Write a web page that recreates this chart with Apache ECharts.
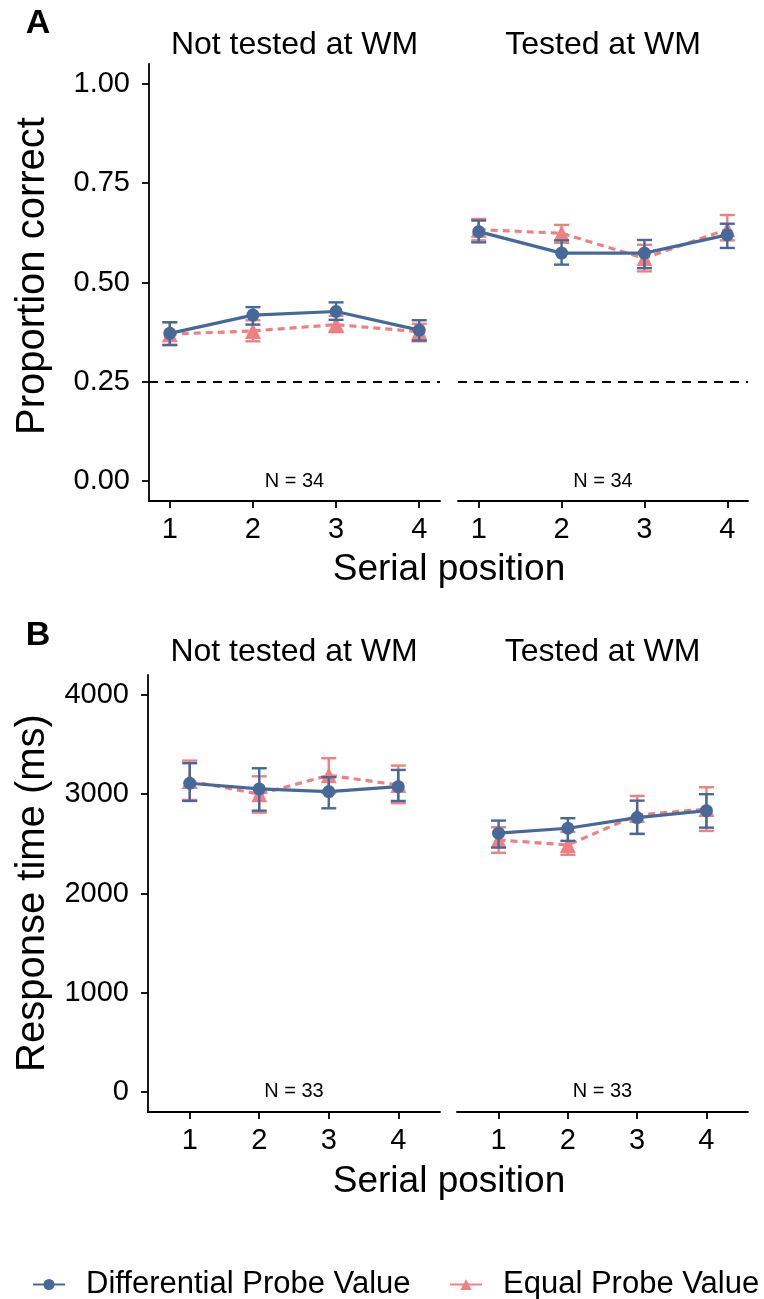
<!DOCTYPE html>
<html>
<head>
<meta charset="utf-8">
<script src="https://cdn.jsdelivr.net/npm/echarts@6/dist/echarts.min.js"></script>
<style>
html,body{margin:0;padding:0;background:#fff;}
#main{width:764px;height:1299px;}
</style>
</head>
<body>
<div id="main"></div>
<script>
// ---- data ----
const serialPositions = [1, 2, 3, 4];
const xTickLabels = ['1', '2', '3', '4'];
const facetNames = ['Not tested at WM', 'Tested at WM'];
const seriesNames = ['Differential Probe Value', 'Equal Probe Value'];
const accTicks = [0, 0.25, 0.5, 0.75, 1.0];
const rtTicks = [0, 1000, 2000, 3000, 4000];
const chanceLevel = 0.25;
const nLabelsA = ['N = 34', 'N = 34'];
const nLabelsB = ['N = 33', 'N = 33'];

// Panel A: proportion correct
const accDiffNot   = [0.372, 0.418, 0.427, 0.380];
const accDiffNotLo = [0.343, 0.394, 0.406, 0.354];
const accDiffNotHi = [0.400, 0.438, 0.450, 0.405];
const accEqNot     = [0.370, 0.378, 0.394, 0.376];
const accEqNotLo   = [0.342, 0.352, 0.375, 0.352];
const accEqNotHi   = [0.400, 0.405, 0.416, 0.396];
const accDiffTest   = [0.628, 0.574, 0.574, 0.620];
const accDiffTestLo = [0.601, 0.545, 0.536, 0.587];
const accDiffTestHi = [0.656, 0.606, 0.607, 0.648];
const accEqTest     = [0.633, 0.624, 0.561, 0.634];
const accEqTestLo   = [0.606, 0.600, 0.528, 0.606];
const accEqTestHi   = [0.660, 0.645, 0.595, 0.670];

// Panel B: response time (ms)
const rtDiffNot   = [3110, 3053, 3026, 3076];
const rtDiffNotLo = [2932, 2834, 2858, 2932];
const rtDiffNotHi = [3312, 3261, 3171, 3244];
const rtEqNot     = [3133, 3000, 3190, 3093];
const rtEqNotLo   = [2942, 2814, 3010, 2909];
const rtEqNotHi   = [3338, 3180, 3362, 3288];
const rtDiffTest   = [2607, 2657, 2764, 2834];
const rtDiffTestLo = [2462, 2530, 2600, 2663];
const rtDiffTestHi = [2734, 2758, 2935, 3000];
const rtEqTest     = [2539, 2489, 2790, 2850];
const rtEqTestLo   = [2410, 2390, 2600, 2630];
const rtEqTestHi   = [2667, 2620, 2982, 3070];

// ---- styling ----
const FONT = '"Liberation Sans", Arial, Helvetica, sans-serif';
const BLUE = '#46699A';
const RED = '#F08080';

const chart = echarts.init(document.getElementById('main'), null, {renderer: 'canvas'});

const grids = [
  {left: 149, top: 64, width: 291, height: 437},
  {left: 458, top: 64, width: 290, height: 437},
  {left: 148, top: 675, width: 292, height: 437},
  {left: 457, top: 675, width: 291, height: 437}
];

function xAxisFor(gi, min, max) {
  return {
    type: 'value', gridIndex: gi, min: min, max: max,
    axisLine: {show: true, onZero: false, lineStyle: {color: '#000', width: 1.8}},
    axisTick: {show: true, length: 7, lineStyle: {color: '#000', width: 1.8}, customValues: serialPositions},
    axisLabel: {color: '#000', fontSize: 29, fontFamily: FONT, margin: 14,
      customValues: serialPositions,
      formatter: v => xTickLabels[serialPositions.indexOf(v)]},
    splitLine: {show: false}
  };
}
function yAxisFor(gi, min, max, ticks, fmt, show) {
  return {
    type: 'value', gridIndex: gi, min: min, max: max,
    axisLine: {show: show, onZero: false, lineStyle: {color: '#000', width: 1.8}},
    axisTick: {show: show, length: 7, lineStyle: {color: '#000', width: 1.8}, customValues: ticks},
    axisLabel: {show: show, color: '#000', fontSize: 29, fontFamily: FONT, margin: 19,
      customValues: ticks, formatter: fmt},
    splitLine: {show: false}
  };
}

function errSeries(name, gi, xs, lo, hi, color, z) {
  return {
    type: 'custom', name: name, xAxisIndex: gi, yAxisIndex: gi, z: z,
    silent: true,
    data: xs.map((x, i) => [x, lo[i], hi[i]]),
    renderItem: function (params, api) {
      const p1 = api.coord([api.value(0), api.value(1)]);
      const p2 = api.coord([api.value(0), api.value(2)]);
      const hw = 7.5;
      const st = {stroke: color, lineWidth: 2.4};
      return {type: 'group', children: [
        {type: 'line', shape: {x1: p1[0], y1: p1[1], x2: p2[0], y2: p2[1]}, style: st},
        {type: 'line', shape: {x1: p1[0] - hw, y1: p1[1], x2: p1[0] + hw, y2: p1[1]}, style: st},
        {type: 'line', shape: {x1: p2[0] - hw, y1: p2[1], x2: p2[0] + hw, y2: p2[1]}, style: st}
      ]};
    }
  };
}
function lineSeries(name, gi, xs, ys, color, dashed, symbol, z) {
  return {
    type: 'line', name: name, xAxisIndex: gi, yAxisIndex: gi, z: z,
    data: xs.map((x, i) => [x, ys[i]]),
    symbol: symbol, symbolSize: symbol === 'triangle' ? 16 : 13,
    showSymbol: true,
    itemStyle: {color: color},
    lineStyle: {color: color, width: 3.2, type: dashed ? [7, 5] : 'solid'},
    emphasis: {disabled: true},
    animation: false
  };
}

const fmtAcc = v => v.toFixed(2);
const fmtRt = v => String(Math.round(v));

const series = [];
const panelData = [
  {gi: 0, d: accDiffNot, dl: accDiffNotLo, dh: accDiffNotHi, e: accEqNot, el: accEqNotLo, eh: accEqNotHi},
  {gi: 1, d: accDiffTest, dl: accDiffTestLo, dh: accDiffTestHi, e: accEqTest, el: accEqTestLo, eh: accEqTestHi},
  {gi: 2, d: rtDiffNot, dl: rtDiffNotLo, dh: rtDiffNotHi, e: rtEqNot, el: rtEqNotLo, eh: rtEqNotHi},
  {gi: 3, d: rtDiffTest, dl: rtDiffTestLo, dh: rtDiffTestHi, e: rtEqTest, el: rtEqTestLo, eh: rtEqTestHi}
];
panelData.forEach(p => {
  series.push(lineSeries(seriesNames[1], p.gi, serialPositions, p.e, RED, true, 'triangle', 3));
  series.push(errSeries(seriesNames[1] + ' err', p.gi, serialPositions, p.el, p.eh, RED, 4));
  series.push(lineSeries(seriesNames[0], p.gi, serialPositions, p.d, BLUE, false, 'circle', 5));
  series.push(errSeries(seriesNames[0] + ' err', p.gi, serialPositions, p.dl, p.dh, BLUE, 6));
});
// chance line in panel A
[0, 1].forEach(gi => {
  series.push({
    type: 'line', xAxisIndex: gi, yAxisIndex: gi, data: [], z: 1,
    markLine: {
      silent: true, symbol: ['none', 'none'], label: {show: false},
      lineStyle: {color: '#000', width: 2, type: [9, 7]},
      data: [{yAxis: chanceLevel}]
    }
  });
});

function txt(x, y, text, size, opts) {
  return Object.assign({
    type: 'text', x: x, y: y,
    style: Object.assign({text: text, fontSize: size, fontFamily: FONT, fill: '#000',
      align: 'center', verticalAlign: 'middle'}, (opts && opts.style) || {})
  }, opts && opts.rot !== undefined ? {rotation: opts.rot} : {});
}

const graphics = [
  txt(38, 24, 'A', 34, {style: {fontWeight: 'bold'}}),
  txt(38, 636, 'B', 34, {style: {fontWeight: 'bold'}}),
  txt(294.5, 45, facetNames[0], 32),
  txt(603, 45, facetNames[1], 32),
  txt(294, 652, facetNames[0], 32),
  txt(602.5, 652, facetNames[1], 32),
  txt(294.5, 481, nLabelsA[0], 20),
  txt(603, 481, nLabelsA[1], 20),
  txt(294, 1091, nLabelsB[0], 20),
  txt(602.5, 1091, nLabelsB[1], 20),
  txt(449, 570, 'Serial position', 37),
  txt(449, 1182, 'Serial position', 37),
  txt(33, 276, 'Proportion correct', 40, {rot: Math.PI / 2}),
  txt(33, 893, 'Response time (ms)', 40, {rot: Math.PI / 2})
];

function legendFor(name, left) {
  return {
    data: [{name: name, lineStyle: {type: 'solid'}}],
    left: left, top: 1264, width: 700,
    itemWidth: 32, itemHeight: 14,
    textStyle: {fontSize: 31, fontFamily: FONT, color: '#000', padding: [0, 0, 0, 16]},
    selectedMode: false
  };
}

chart.setOption({
  animation: false,
  backgroundColor: '#fff',
  textStyle: {fontFamily: FONT},
  grid: grids,
  xAxis: [xAxisFor(0, 0.75, 4.25), xAxisFor(1, 0.75, 4.25), xAxisFor(2, 0.4, 4.6), xAxisFor(3, 0.4, 4.6)],
  yAxis: [
    yAxisFor(0, -0.05, 1.05, accTicks, fmtAcc, true),
    yAxisFor(1, -0.05, 1.05, accTicks, fmtAcc, false),
    yAxisFor(2, -200, 4200, rtTicks, fmtRt, true),
    yAxisFor(3, -200, 4200, rtTicks, fmtRt, false)
  ],
  legend: [legendFor(seriesNames[0], 27), legendFor(seriesNames[1], 444)],
  series: series,
  graphic: graphics
});
</script>
</body>
</html>
